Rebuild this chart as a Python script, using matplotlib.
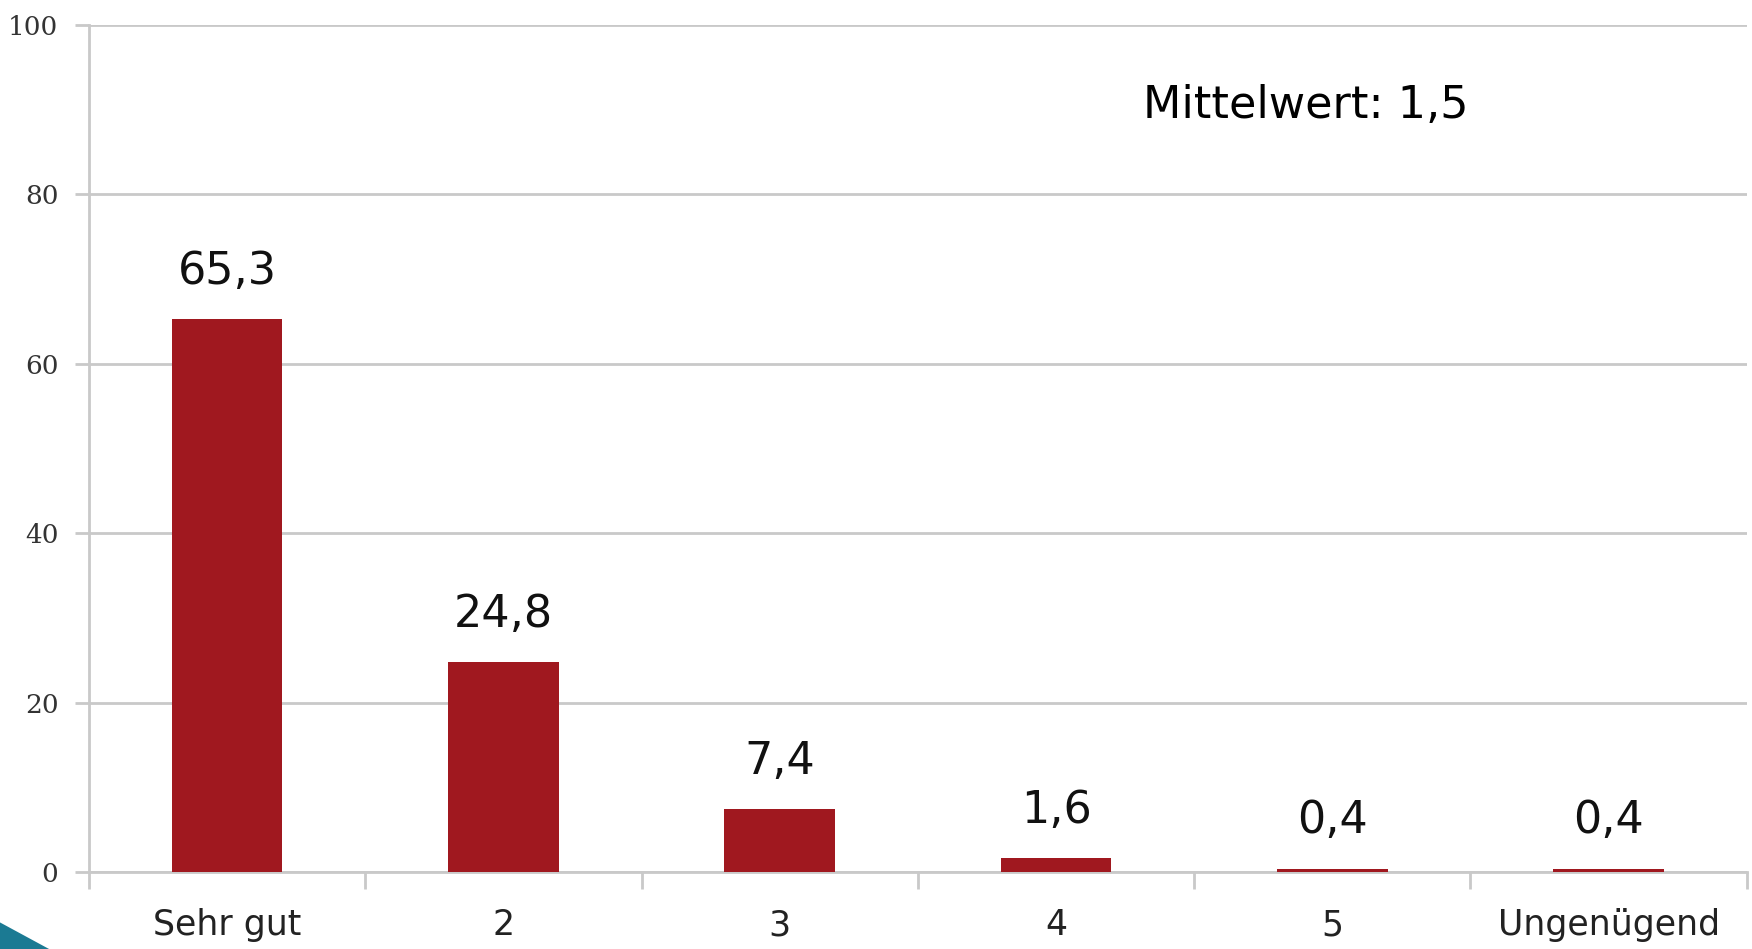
import numpy as np
import matplotlib.pyplot as plt
from matplotlib.patches import Polygon

categories = ["Sehr gut", "2", "3", "4", "5", "Ungenügend"]
values = [65.3, 24.8, 7.4, 1.6, 0.4, 0.4]
value_labels = ["65,3", "24,8", "7,4", "1,6", "0,4", "0,4"]
y_ticks = [0, 20, 40, 60, 80, 100]
mean_text = "Mittelwert: 1,5"

bar_color = "#A0181F"
grid_color = "#C9C9C9"

fig = plt.figure(figsize=(17.52, 9.49), dpi=100)
ax = fig.add_axes([0.0508, 0.0811, 0.9462, 0.8926])

x = np.arange(len(categories))
ax.bar(x, values, width=0.4, color=bar_color, zorder=3)

for xi, v, lab in zip(x, values, value_labels):
    ax.annotate(lab, (xi, v), xytext=(0, 19), textcoords="offset points",
                ha="center", va="bottom", fontsize=32, color="#111111")

ax.set_xlim(-0.5, len(categories) - 0.5)
ax.set_ylim(0, 100)
ax.set_yticks(y_ticks)
ax.set_yticklabels([str(t) for t in y_ticks], fontsize=19, color="#333333",
                   family="DejaVu Serif")
ax.yaxis.grid(True, color=grid_color, linewidth=2, zorder=0)
ax.tick_params(axis="y", length=10, width=2, color=grid_color, pad=12)

ax.set_xticks(x)
ax.set_xticklabels(categories, fontsize=25, color="#222222")
ax.set_xticks(np.arange(-0.5, len(categories)), minor=True)
ax.tick_params(axis="x", which="major", length=0, pad=26)
ax.tick_params(axis="x", which="minor", length=12, width=2, color=grid_color)

for side in ["top", "right"]:
    ax.spines[side].set_visible(False)
for side in ["left", "bottom"]:
    ax.spines[side].set_color(grid_color)
    ax.spines[side].set_linewidth(2)

ax.text(0.734, 0.905, mean_text, transform=ax.transAxes, ha="center",
        va="center", fontsize=32, color="#000000")

# slide decoration in the bottom-left corner
fig.patches.append(Polygon([[0, 0], [0, 0.028], [0.028, 0]], closed=True,
                           transform=fig.transFigure, facecolor="#1B7A93",
                           edgecolor="none"))

fig.savefig("out.png", dpi=100)
